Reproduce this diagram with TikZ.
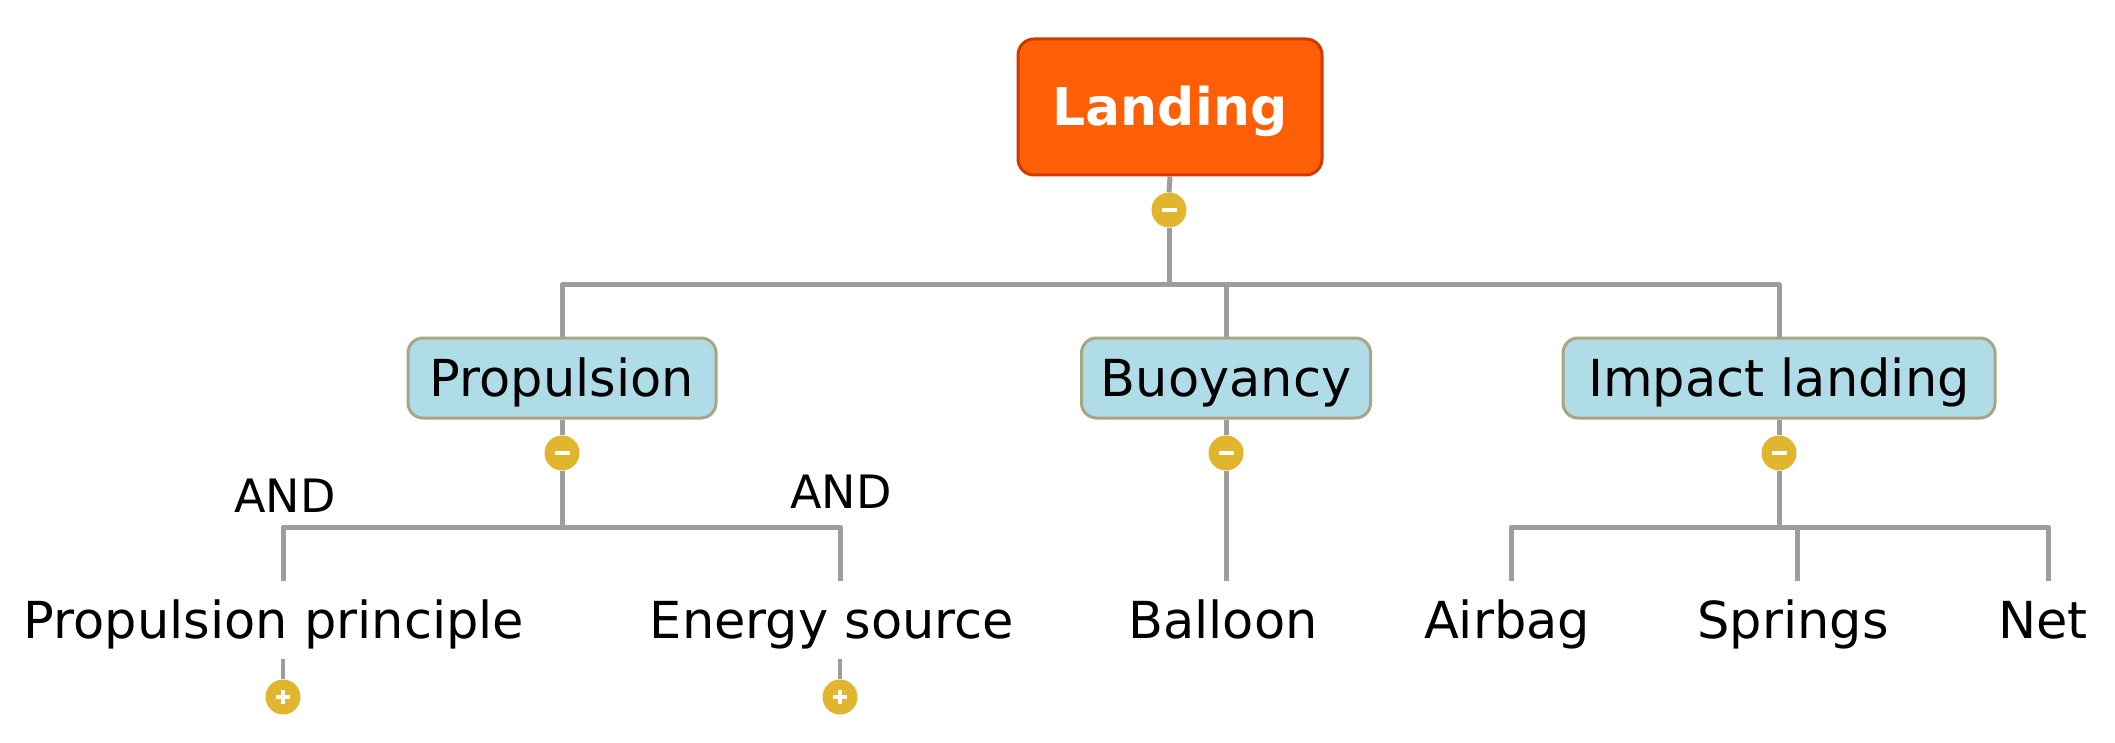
\documentclass[tikz,border=0pt]{standalone}
\usepackage{fontspec}
\setmainfont{DejaVu Sans}
\usetikzlibrary{calc}
\definecolor{lorange}{HTML}{FC5F05}
\definecolor{lred}{HTML}{D03A00}
\definecolor{lgold}{HTML}{E2B52E}
\definecolor{lgray}{HTML}{9D9D9D}
\definecolor{lblue}{HTML}{B0DCE7}
\definecolor{lborder}{HTML}{A8A585}
\begin{document}
\begin{tikzpicture}[x=1pt,y=-1pt,
  conn/.style={draw=lgray,line width=5pt,line join=round},
  rootbox/.style={rectangle,rounded corners=16pt,fill=lorange,draw=lred,line width=3pt,
    minimum width=304pt,minimum height=136pt,inner sep=0pt,text=white,
    font=\fontsize{52}{60}\selectfont\bfseries,text height=38pt,text depth=0pt},
  topicbox/.style={rectangle,rounded corners=15pt,fill=lblue,draw=lborder,line width=3pt,
    minimum height=80pt,inner sep=0pt,font=\fontsize{51}{60}\selectfont,
    text height=37pt,text depth=0pt},
  leaf/.style={inner xsep=0pt,inner ysep=20pt,font=\fontsize{51}{60}\selectfont,
    text height=37pt,text depth=0pt},
  andlabel/.style={inner sep=0pt,font=\fontsize{46}{55}\selectfont,text height=33.5pt,text depth=0pt},
  toggle/.style={circle,fill=lgold,minimum size=35pt,inner sep=0pt},
  minus/.style={toggle,path picture={\draw[white,line width=4pt]
    ($(path picture bounding box.center)+(-7.5,0)$) -- ($(path picture bounding box.center)+(7.5,0)$);}},
  plus/.style={toggle,path picture={\draw[white,line width=4pt]
    ($(path picture bounding box.center)+(-7,0)$) -- ($(path picture bounding box.center)+(7,0)$)
    ($(path picture bounding box.center)+(0,-7)$) -- ($(path picture bounding box.center)+(0,7)$);}}
]
\useasboundingbox (0,0) rectangle (2115,743);

% nodes
\node[rootbox] (landing) at (1170,107) {Landing};
\node[minus] (c0) at (1169,210) {};

\node[topicbox,minimum width=308pt] (prop) at (562,378) {Propulsion};
\node[topicbox,minimum width=289pt] (buoy) at (1226,378) {Buoyancy};
\node[topicbox,minimum width=432pt] (imp) at (1779,378) {Impact landing};

\node[minus] (c1p) at (562,453) {};
\node[minus] (c1b) at (1226,453) {};
\node[minus] (c1i) at (1779,453) {};

\node[leaf] (pp) at (274,620) {Propulsion principle};
\node[leaf] (es) at (832,620) {Energy source};
\node[leaf] (ball) at (1223,620) {Balloon};
\node[leaf] (air) at (1507,620) {Airbag};
\node[leaf] (spr) at (1793,620) {Springs};
\node[leaf] (net) at (2043,620) {Net};

\node[andlabel] (and1) at (285,496) {AND};
\node[andlabel] (and2) at (841,492) {AND};

\node[plus] (cpp) at (283,697) {};
\node[plus] (ces) at (840,697) {};

% junction coordinates
\coordinate (j0) at (1169,285);
\coordinate (jp) at (562,527);
\coordinate (jpl) at (283,527);
\coordinate (jpr) at (840,527);
\coordinate (ji) at (1779,527);
\coordinate (jil) at (1511,527);
\coordinate (jim) at (1797,527);
\coordinate (jir) at (2048,527);

% connectors
\draw[conn] (landing.south) -- (c0.north);
\draw[conn] (c0.south) -- (j0);
\draw[conn] (prop.north) |- (j0) -| (imp.north);
\draw[conn] (j0) -| (buoy.north);

\draw[conn] (prop.south) -- (c1p.north);
\draw[conn] (c1p.south) -- (jp);
\draw[conn] (jpl |- pp.north) -- (jpl) -- (jpr) -- (jpr |- es.north);

\draw[conn] (buoy.south) -- (c1b.north);
\draw[conn] (c1b.south) -- (c1b.south |- ball.north);

\draw[conn] (imp.south) -- (c1i.north);
\draw[conn] (c1i.south) -- (ji);
\draw[conn] (jil |- air.north) -- (jil) -- (jir) -- (jir |- net.north);
\draw[conn] (jim) -- (jim |- spr.north);

\draw[conn,line width=4pt] (cpp |- pp.south) -- (cpp.north);
\draw[conn,line width=4pt] (ces |- es.south) -- (ces.north);
\end{tikzpicture}
\end{document}
